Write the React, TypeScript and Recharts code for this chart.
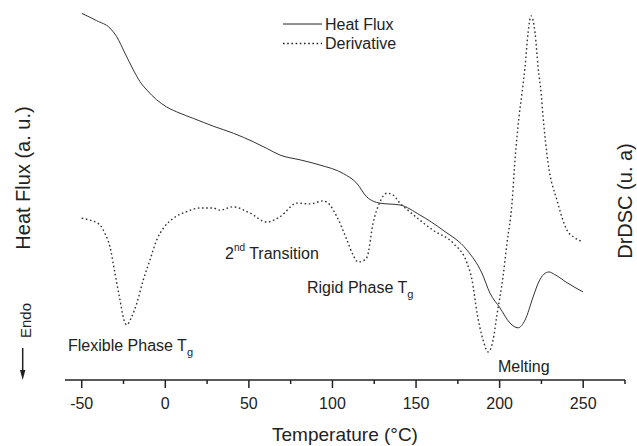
import React from 'react';
import { ComposedChart, Legend, Line, XAxis, YAxis } from 'recharts';

// DSC scan of the film: heat flux and its derivative vs temperature (a. u.)
const heatFluxTemp = [
  -50, -41, -33.1, -29.1, -24.1, -19.1, -15.1, -11.1, -5.1, 0.8,
  8.8, 16.8, 28.7, 40.7, 52.6, 60.7, 68.6, 80.6, 92.5, 106.5,
  114.5, 120.5, 128.4, 140.4, 152.3, 166.1, 180.5, 189.4, 194.2, 200.2,
  206.2, 211, 215.2, 220, 223.5, 226.5, 229.5, 233, 240.3, 249.9,
];
const heatFluxSignal = [
  99.1, 97.1, 95.1, 92.8, 88.3, 83.8, 80.6, 78.4, 75.7, 73.8,
  72.1, 70.7, 68.6, 66.7, 64.4, 62.6, 60.8, 59.5, 58.1, 55.8,
  53.2, 49.5, 47.8, 47.3, 44.6, 40.5, 35.1, 28.9, 23.5, 19.5,
  15.4, 14.1, 16.2, 22.4, 26.6, 28.6, 29.2, 28.5, 26.3, 23.8,
];

const derivativeTemp = [
  -50, -45, -39.1, -36.1, -33.1, -30.1, -27.1, -24.7, -23.1, -20.1,
  -17.1, -13.2, -9.2, -5.2, -1.2, 4.8, 12.8, 20.8, 28.5, 32.7,
  40.5, 50.7, 60.8, 68.6, 78.8, 86.6, 94.3, 98.5, 102.7, 108.7,
  112.3, 115.3, 118.3, 120.7, 124.3, 128.4, 132.6, 136.2, 140.4, 146.4,
  152.3, 160.1, 172.1, 180.5, 183.5, 186.5, 190.1, 193.1, 196.1, 198.4,
  202, 204.4, 207.4, 209.2, 211.6, 213.4, 215.2, 217, 218.8, 221.2,
  223, 224.8, 226, 229, 234.3, 240.3, 245.1, 249.9,
];
const derivativeSignal = [
  43.7, 43.2, 41.9, 39.6, 36.0, 28.8, 21.6, 16.2, 14.9, 17.1,
  20.7, 27.0, 32.4, 37.8, 41.0, 43.7, 45.5, 46.5, 46.5, 45.9,
  46.8, 45.1, 42.7, 44.1, 47.8, 47.6, 48.4, 47.3, 44.1, 37.8,
  33.8, 31.9, 32.2, 33.2, 42.4, 48.1, 50.5, 50.0, 47.8, 45.4,
  43.2, 40.5, 37.0, 31.6, 27.0, 18.1, 10.8, 7.6, 10.8, 17.6,
  27.8, 37.0, 47.8, 59.5, 71.1, 77.6, 84.6, 93.8, 98.4, 93.8,
  84.6, 77.6, 71.1, 58.6, 48.6, 40.5, 38.4, 37.3,
];

const tempTicks = [-50, -25, 0, 25, 50, 75, 100, 125, 150, 175, 200, 225, 250, 275];
const seriesOrder = ['Heat Flux', 'Derivative'];

const heatFluxData = heatFluxTemp.map((t, i) => ({ temp: t, value: heatFluxSignal[i] }));
const derivativeData = derivativeTemp.map((t, i) => ({ temp: t, value: derivativeSignal[i] }));

const FONT = "'Liberation Sans', Arial, Helvetica, sans-serif";
const INK = '#222';
const DOTTED = '1.6 2.6';

const TemperatureTick = ({ x, y, payload }: any) => {
  const major = payload.value % 50 === 0;
  return (
    <g>
      <line x1={x} x2={x} y1={y} y2={y + (major ? 8 : 4)} stroke={INK} strokeWidth={1.5} />
      {major && (
        <text x={x} y={y + 28.5} textAnchor="middle" fontSize={16} fill={INK} fontFamily={FONT}>
          {payload.value}
        </text>
      )}
    </g>
  );
};

const LegendContent = ({ payload }: any) => {
  const items = [...(payload || [])].sort(
    (a: any, b: any) => seriesOrder.indexOf(a.value) - seriesOrder.indexOf(b.value),
  );
  return (
    <svg width={130} height={44} style={{ overflow: 'visible' }}>
      {items.map((entry: any, i: number) => (
        <g key={entry.value} transform={`translate(0, ${10 + i * 19.5})`}>
          <line
            x1={0}
            x2={39}
            y1={0}
            y2={0}
            stroke={INK}
            strokeWidth={entry.value === 'Derivative' ? 1.4 : 1}
            strokeDasharray={entry.value === 'Derivative' ? DOTTED : undefined}
          />
          <text x={42} y={5.8} fontSize={16} fill={INK} fontFamily={FONT}>
            {entry.value}
          </text>
        </g>
      ))}
    </svg>
  );
};

const App: React.FC = () => (
  <div style={{ position: 'absolute', left: 0, top: 0, width: 637, height: 446, background: '#fff', fontFamily: FONT }}>
    <ComposedChart width={637} height={446} margin={{ top: 10, right: 12, left: 65, bottom: 36 }}>
      <XAxis
        type="number"
        dataKey="temp"
        domain={[-60, 275]}
        ticks={tempTicks}
        interval={0}
        allowDataOverflow
        height={30}
        tickSize={0}
        tickMargin={0}
        tickLine={false}
        axisLine={{ stroke: INK, strokeWidth: 1.5 }}
        tick={<TemperatureTick />}
      />
      <YAxis yAxisId="flux" hide domain={[0, 100]} />
      <YAxis yAxisId="deriv" orientation="right" hide domain={[0, 100]} />
      <Legend
        layout="vertical"
        align="center"
        verticalAlign="middle"
        content={<LegendContent />}
        wrapperStyle={{ left: 283, top: 14, width: 130 }}
      />
      <Line
        yAxisId="flux"
        data={heatFluxData}
        dataKey="value"
        name="Heat Flux"
        type="monotone"
        stroke="#333"
        strokeWidth={1}
        dot={false}
        activeDot={false}
        isAnimationActive={false}
      />
      <Line
        yAxisId="deriv"
        data={derivativeData}
        dataKey="value"
        name="Derivative"
        type="monotone"
        stroke="#333"
        strokeWidth={1.4}
        strokeDasharray={DOTTED}
        dot={false}
        activeDot={false}
        isAnimationActive={false}
      />
    </ComposedChart>
    <svg
      width={637}
      height={446}
      style={{ position: 'absolute', left: 0, top: 0, pointerEvents: 'none' }}
      fontFamily={FONT}
      fill={INK}
    >
      <text transform="translate(30,178) rotate(-90)" textAnchor="middle" fontSize={20}>
        Heat Flux (a. u.)
      </text>
      <text transform="translate(632,201) rotate(-90)" textAnchor="middle" fontSize={20}>
        DrDSC (u. a)
      </text>
      <text x={345} y={441} textAnchor="middle" fontSize={19}>
        Temperature (°C)
      </text>
      <text transform="translate(31,320.5) rotate(-90)" textAnchor="middle" fontSize={15}>
        Endo
      </text>
      <line x1={22.7} x2={22.7} y1={348} y2={372} stroke={INK} strokeWidth={1.5} />
      <path d="M20 370 L25.4 370 L22.7 380 Z" fill={INK} />
      <text x={68} y={351} fontSize={16}>
        Flexible Phase T<tspan fontSize={11} dy={5}>g</tspan>
      </text>
      <text x={225} y={259} fontSize={16}>
        2<tspan fontSize={10} dy={-8}>nd</tspan>
        <tspan dy={8}> Transition</tspan>
      </text>
      <text x={307} y={293} fontSize={16}>
        Rigid Phase T<tspan fontSize={11} dy={5}>g</tspan>
      </text>
      <text x={498} y={372} fontSize={16}>
        Melting
      </text>
    </svg>
  </div>
);

export default App;
